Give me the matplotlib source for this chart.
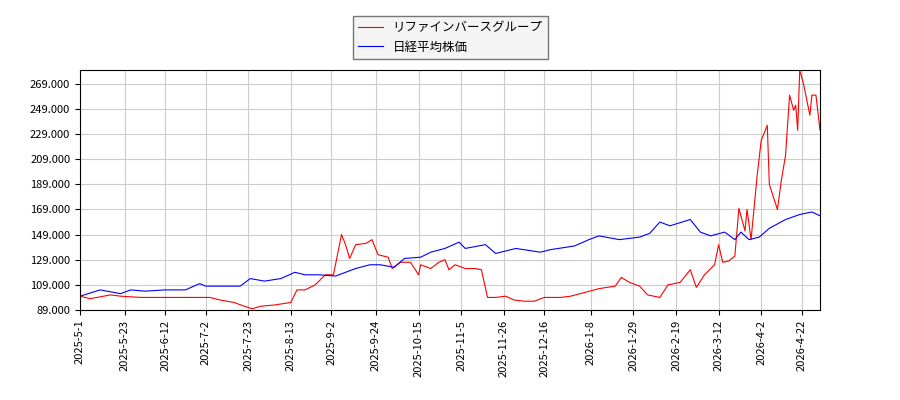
import matplotlib
matplotlib.use("Agg")
import matplotlib.pyplot as plt
import matplotlib.ticker as mticker
import pandas as pd

plt.rcParams['font.family'] = ['Noto Sans CJK JP', 'DejaVu Sans']

start = pd.Timestamp("2025-05-01")

red_days = [0, 5, 15, 20, 30, 42, 52, 64, 69, 76, 81, 85, 89, 96, 104, 107, 111, 116, 121, 125,
            127, 129, 131, 133, 136, 141, 144, 147, 152, 154, 158, 163, 167, 168, 173, 177, 180,
            182, 185, 190, 195, 198, 201, 205, 210, 214, 219, 224, 229, 237, 242, 249, 256, 264,
            267, 271, 276, 280, 286, 290, 296, 301, 304, 308, 313, 315, 317, 320, 323, 325, 328,
            329, 331, 334, 336, 339, 340, 344, 346, 348, 350, 352, 353, 354, 355, 357, 360, 361,
            363, 365]
red_vals = [100, 98, 101, 100, 99, 99, 99, 99, 97, 95, 92, 90, 92, 93, 95, 105, 105, 109, 117, 117,
            133, 149, 141, 130, 141, 142, 145, 133, 131, 122, 127, 127, 117, 125, 122, 127, 129,
            121, 125, 122, 122, 121, 99, 99, 100, 97, 96, 96, 99, 99, 100, 103, 106, 108,
            115, 111, 108, 101, 99, 109, 111, 121, 107, 117, 125, 141, 127, 128, 132, 170, 152,
            169, 145, 196, 224, 236, 189, 169, 193, 212, 260, 248, 252, 232, 280, 268, 244, 260,
            260, 232]

blue_days = [0, 10, 20, 25, 32, 42, 52, 59, 62, 79, 84, 91, 99, 106, 111, 118, 126, 131, 136,
             143, 148, 155, 160, 168, 173, 180, 187, 190, 200, 205, 215, 227, 232, 244, 251, 256,
             266, 276, 281, 286, 291, 301, 306, 311, 318, 323, 326, 330, 335, 340, 348, 355,
             361, 365]
blue_vals = [100, 105, 102, 105, 104, 105, 105, 110, 108, 108, 114, 112, 114, 119, 117, 117, 116,
             119, 122, 125, 125, 123, 130, 131, 135, 138, 143, 138, 141, 134, 138, 135, 137,
             140, 145, 148, 145, 147, 150, 159, 156, 161, 151, 148, 151, 145, 151, 145, 147,
             154, 161, 165, 167, 164]

tick_labels = ["2025-5-1", "2025-5-23", "2025-6-12", "2025-7-2", "2025-7-23", "2025-8-13",
               "2025-9-2", "2025-9-24", "2025-10-15", "2025-11-5", "2025-11-26", "2025-12-16",
               "2026-1-8", "2026-1-29", "2026-2-19", "2026-3-12", "2026-4-2", "2026-4-22"]

red_x = start + pd.to_timedelta(red_days, unit="D")
blue_x = start + pd.to_timedelta(blue_days, unit="D")

fig = plt.figure(figsize=(9, 4), dpi=100)
ax = fig.add_axes([80 / 900, 90 / 400, 740 / 900, 240 / 400])
ax.plot(red_x, red_vals, color="red", lw=0.8, label="リファインバースグループ")
ax.plot(blue_x, blue_vals, color="blue", lw=0.8, label="日経平均株価")

ax.set_xticks(pd.to_datetime(tick_labels))
ax.set_xticklabels(tick_labels, rotation=90, fontsize=8)
ax.set_xlim(red_x[0], red_x[-1])
ax.set_ylim(89, 280)
ax.set_yticks(range(89, 270, 20))
ax.yaxis.set_major_formatter(mticker.FormatStrFormatter("%.3f"))
ax.tick_params(axis="y", labelsize=8)
ax.grid(True, color="#cccccc", lw=0.8)

fig.legend(loc="upper center", bbox_to_anchor=(0.5, 0.975), fontsize=9,
           fancybox=False, edgecolor="#555555", facecolor="#f2f2f2")

fig.savefig("out.png")
